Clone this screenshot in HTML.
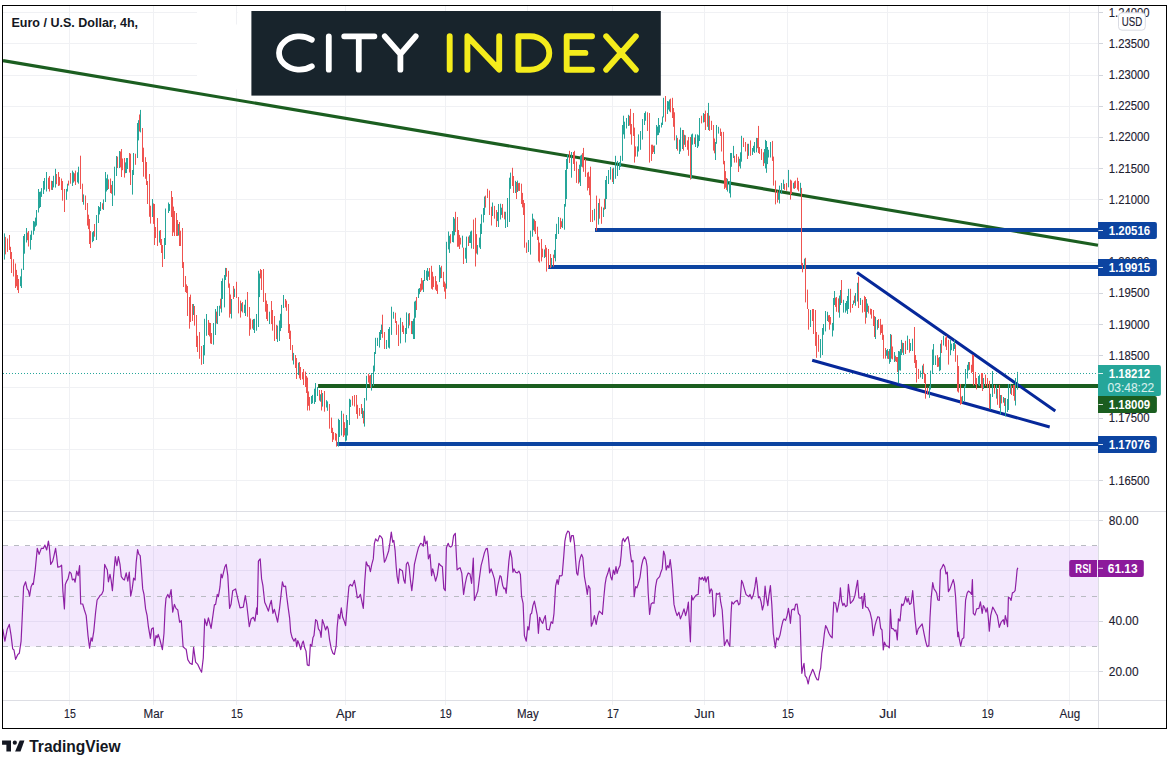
<!DOCTYPE html>
<html><head><meta charset="utf-8"><title>EUR/USD 4h</title>
<style>html,body{margin:0;padding:0;background:#fff}body{width:1173px;height:765px;position:relative;overflow:hidden;font-family:"Liberation Sans", sans-serif}</style>
</head><body>
<svg width="1173" height="765" viewBox="0 0 1173 765" style="position:absolute;left:0;top:0;font-family:'Liberation Sans',sans-serif">
<rect x="0" y="0" width="1173" height="765" fill="#fff"/>
<path d="M69.5 6V705M153.5 6V705M236.5 6V705M345.5 6V705M445.5 6V705M527.5 6V705M612.5 6V705M704.5 6V705M787.5 6V705M887.5 6V705M987.5 6V705M1069.5 6V705M3 12.5H1098M3 43.5H1098M3 75.5H1098M3 106.5H1098M3 137.5H1098M3 168.5H1098M3 199.5H1098M3 231.5H1098M3 262.5H1098M3 293.5H1098M3 324.5H1098M3 355.5H1098M3 387.5H1098M3 418.5H1098M3 449.5H1098M3 480.5H1098M3 520.5H1098M3 570.5H1098M3 621.5H1098M3 671.5H1098" stroke="#f0f1f4" stroke-width="1" fill="none"/>
<rect x="3" y="546" width="1095" height="100.5" fill="#a040f0" fill-opacity="0.12"/>
<path d="M3 545.5H1098" stroke="#b9bbc2" stroke-width="1" stroke-dasharray="5 6" fill="none"/>
<path d="M3 596.5H1098" stroke="#b9bbc2" stroke-width="1" stroke-dasharray="5 6" fill="none"/>
<path d="M3 646.5H1098" stroke="#b9bbc2" stroke-width="1" stroke-dasharray="5 6" fill="none"/>
<path d="M3 511.5H1166M3 700.5H1166M1098.5 6V728" stroke="#dddee4" stroke-width="1" fill="none"/>
<path d="M3 373.5H1098" stroke="#26a69a" stroke-width="1" stroke-dasharray="1 2" fill="none"/>
<path d="M3 60.6L1098 245.2" stroke="#1b5e20" stroke-width="3.1" fill="none"/>
<path d="M318.1 386H1098" stroke="#1b5e20" stroke-width="4" fill="none"/>
<path d="M595 230H1098M548.2 267H1098M337.2 444H1098" stroke="#0c44a1" stroke-width="4" fill="none"/>
<path d="M857 272.6L1055.3 410.9M812.2 360.3L1049.7 427" stroke="#06289a" stroke-width="3.05" fill="none"/>
<path d="M5.5 236.9V254.4M7.5 238.5V251.9M9.5 235.0V250.0M10.5 246.8V259.0M11.5 252.0V273.0M13.5 259.2V276.5M15.5 263.5V288.0M16.5 269.9V286.3M17.5 275.0V290.1M18.5 279.0V293.0M27.5 232.6V240.2M28.5 231.0V246.5M48.5 177.7V189.0M49.5 176.0V191.5M51.5 180.8V189.9M56.5 174.0V184.2M58.5 172.0V186.0M59.5 176.9V185.5M61.5 178.5V190.0M62.5 181.0V200.7M64.5 189.0V212.0M68.5 180.6V185.5M70.5 173.0V183.7M74.5 173.3V181.4M75.5 170.6V185.0M80.5 155.7V189.0M82.5 183.7V202.0M85.5 195.5V210.0M87.5 203.0V225.6M88.5 214.7V229.1M89.5 219.0V244.0M90.5 231.0V248.0M94.5 224.0V236.7M102.5 203.3V209.2M108.5 179.4V189.0M110.5 178.5V193.0M111.5 184.9V193.8M117.5 156.6V168.0M120.5 151.5V167.4M121.5 149.0V177.0M122.5 158.5V170.2M124.5 158.0V177.6M129.5 153.0V172.5M130.5 153.7V185.0M135.5 153.7V164.8M139.5 114.5V131.5M142.5 128.0V162.0M143.5 147.7V176.7M145.5 157.2V178.8M146.5 162.0V185.0M147.5 181.0V204.0M149.5 174.0V216.8M150.5 205.7V223.6M153.5 203.4V223.9M154.5 204.0V245.0M155.5 227.0V238.0M157.5 218.0V246.0M160.5 230.0V245.0M161.5 239.0V253.0M162.5 245.0V267.0M171.5 191.0V217.0M172.5 197.0V236.0M173.5 206.6V232.4M174.5 211.0V236.0M176.5 213.0V236.0M177.5 220.0V236.0M179.5 222.0V246.0M180.5 230.7V246.0M182.5 228.0V268.0M183.5 262.0V287.0M185.5 276.0V292.0M186.5 284.4V293.0M187.5 286.0V316.0M189.5 297.0V328.7M190.5 294.6V322.0M192.5 304.0V321.0M194.5 306.0V325.6M196.5 315.0V347.0M197.5 335.8V352.0M199.5 332.0V358.8M201.5 346.0V364.8M208.5 320.0V335.0M209.5 322.7V336.4M210.5 323.0V343.5M211.5 333.0V344.0M216.5 311.6V323.5M220.5 298.7V308.7M226.5 268.0V276.7M228.5 270.8V287.8M229.5 283.5V317.6M230.5 294.5V313.9M233.5 286.0V299.0M236.5 281.8V298.0M238.5 297.0V313.4M240.5 300.6V317.6M242.5 302.0V312.5M247.5 292.0V316.8M249.5 307.0V335.8M250.5 318.5V329.6M252.5 319.8V328.6M260.5 269.0V278.4M261.5 270.0V290.0M263.5 269.0V302.0M265.5 293.0V311.7M266.5 300.6V319.0M267.5 304.0V321.0M271.5 301.0V324.0M272.5 310.0V330.7M274.5 316.0V341.0M276.5 324.9V339.1M285.5 299.0V307.4M286.5 300.6V310.8M288.5 304.0V333.0M289.5 324.0V339.0M290.5 330.7V350.0M292.5 345.0V360.5M295.5 355.0V368.0M296.5 358.0V379.0M299.5 362.0V378.4M300.5 367.0V380.0M302.5 372.2V379.3M303.5 369.0V385.0M305.5 371.6V387.0M306.5 375.9V393.0M307.5 377.6V410.5M308.5 391.4V405.8M309.5 397.0V410.5M319.5 390.0V400.6M321.5 390.0V410.5M324.5 391.0V411.7M329.5 404.0V428.7M331.5 417.6V433.0M332.5 427.8V442.0M333.5 432.0V439.7M335.5 433.0V440.6M336.5 433.8V446.6M343.5 413.7V437.0M344.5 422.2V435.4M352.5 396.0V405.6M354.5 395.0V406.5M356.5 395.0V414.0M357.5 404.8V418.8M359.5 408.0V415.9M361.5 404.0V414.0M363.5 410.8V423.5M368.5 373.8V382.6M369.5 375.5V384.2M370.5 375.0V387.7M382.5 314.7V337.8M384.5 332.0V349.0M395.5 312.7V323.0M396.5 321.0V334.9M398.5 324.6V346.0M402.5 322.0V332.0M403.5 325.5V334.0M409.5 313.0V325.5M411.5 321.0V334.0M416.5 297.0V310.0M420.5 283.7V292.0M421.5 278.0V290.5M422.5 280.4V289.6M429.5 268.0V280.0M431.5 265.8V288.8M432.5 271.8V289.7M433.5 276.5V287.0M435.5 276.0V289.7M436.5 281.1V291.0M437.5 284.6V294.0M441.5 265.8V278.0M443.5 271.8V287.0M444.5 281.6V291.6M445.5 283.5V298.9M450.5 234.2V243.4M455.5 211.8V232.0M457.5 217.0V246.8M458.5 230.0V246.7M459.5 234.9V249.0M460.5 237.7V244.5M463.5 247.6V264.0M468.5 236.6V246.0M473.5 219.5V249.0M475.5 217.8V266.5M476.5 234.1V253.5M485.5 195.6V207.6M487.5 188.8V198.0M489.5 190.5V215.0M491.5 206.7V225.5M494.5 205.9V218.7M496.5 210.0V227.0M502.5 204.0V217.8M504.5 211.7V219.4M512.5 167.8V186.0M513.5 176.0V193.0M516.5 182.0V199.0M518.5 183.1V190.9M519.5 182.8V191.0M521.5 183.7V204.0M522.5 192.9V207.4M523.5 200.0V215.0M524.5 203.0V247.7M526.5 242.5V252.9M534.5 219.5V231.5M535.5 221.0V234.0M537.5 226.7V240.0M538.5 236.7V261.4M539.5 242.6V262.7M541.5 239.0V261.4M542.5 248.7V257.2M545.5 245.0V257.0M546.5 247.7V271.6M548.5 249.0V268.0M550.5 254.0V268.0M553.5 254.6V266.5M560.5 217.8V229.0M561.5 221.2V227.1M569.5 150.8V163.0M573.5 152.0V164.0M574.5 150.8V171.0M576.5 161.5V182.9M578.5 169.0V183.7M582.5 153.1V167.4M583.5 147.9V171.8M585.5 159.0V176.9M587.5 172.6V190.5M588.5 171.8V188.0M589.5 176.6V195.2M590.5 166.7V222.0M592.5 210.0V222.0M596.5 195.6V230.6M599.5 198.7V218.7M601.5 206.7V223.8M604.5 198.8V209.7M612.5 168.5V182.0M629.5 115.8V125.6M630.5 108.9V134.4M631.5 124.0V144.7M633.5 113.0V136.0M634.5 127.6V162.6M635.5 146.4V156.6M647.5 112.3V131.0M649.5 113.0V162.6M651.5 144.7V160.9M652.5 144.7V154.0M653.5 145.7V152.1M665.5 96.0V121.7M670.5 98.6V112.3M672.5 97.8V118.0M673.5 108.0V126.8M674.5 112.3V140.4M677.5 137.9V150.6M683.5 130.0V150.6M685.5 135.3V147.0M687.5 140.4V149.8M688.5 137.0V155.8M690.5 137.0V179.6M694.5 137.5V144.1M701.5 115.7V123.4M704.5 114.0V122.1M705.5 110.6V130.0M707.5 113.0V126.8M709.5 115.7V131.0M711.5 120.8V130.0M713.5 125.0V150.6M714.5 138.5V153.3M720.5 128.5V136.0M721.5 131.9V151.5M723.5 131.9V164.3M724.5 160.9V189.0M725.5 171.1V187.7M726.5 178.0V189.9M734.5 155.8V162.6M736.5 154.0V162.6M738.5 156.6V172.0M743.5 137.9V147.0M745.5 142.0V151.5M747.5 143.8V159.0M750.5 140.4V155.8M757.5 138.0V148.2M758.5 125.9V153.0M759.5 147.0V154.0M761.5 148.9V160.0M763.5 152.3V166.0M772.5 140.9V160.9M773.5 156.6V185.6M775.5 180.5V204.4M777.5 190.7V202.6M784.5 183.9V189.9M786.5 183.0V190.7M790.5 179.6V199.6M791.5 180.5V194.0M794.5 181.3V189.0M795.5 180.5V188.0M797.5 177.7V189.6M798.5 181.0V191.3M801.5 187.9V265.5M802.5 263.0V272.3M805.5 257.8V302.4M807.5 289.6V309.0M808.5 309.0V329.7M812.5 309.0V321.0M813.5 309.0V334.0M815.5 310.0V345.9M816.5 332.0V357.8M818.5 334.8V351.8M828.5 315.3V322.1M829.5 315.0V329.7M830.5 317.0V324.6M835.5 297.7V306.9M836.5 297.0V311.8M838.5 298.4V312.5M841.5 280.0V303.0M850.5 288.8V312.6M852.5 304.0V308.0M854.5 295.6V303.0M858.5 276.8V308.0M862.5 299.8V312.6M864.5 295.9V311.8M865.5 297.0V323.7M868.5 305.8V313.5M870.5 308.6V314.6M871.5 309.0V318.6M873.5 310.0V326.0M874.5 316.0V337.0M878.5 319.0V328.0M880.5 318.9V334.8M881.5 324.8V333.0M882.5 324.6V339.9M883.5 334.8V358.7M885.5 348.0V358.7M888.5 351.1V359.0M891.5 334.8V358.7M892.5 346.5V359.4M895.5 355.7V361.3M896.5 357.0V362.0M897.5 357.0V372.0M902.5 342.7V352.7M905.5 340.8V354.0M909.5 339.0V352.7M914.5 327.0V363.0M915.5 355.0V368.0M916.5 360.0V382.5M918.5 368.9V379.0M923.5 363.8V374.0M924.5 372.9V383.0M925.5 374.0V398.7M927.5 387.6V394.5M937.5 355.0V367.0M938.5 357.7V366.7M941.5 340.0V353.0M945.5 337.5V346.6M946.5 335.8V350.0M948.5 339.8V364.6M955.5 344.4V361.8M957.5 355.2V391.5M958.5 366.0V392.6M960.5 384.0V404.8M961.5 396.6V404.0M969.5 362.0V369.8M971.5 364.8V373.0M972.5 354.7V371.9M973.5 355.0V385.5M975.5 372.0V385.0M976.5 378.0V389.4M981.5 373.0V388.0M982.5 373.0V391.0M985.5 374.6V386.0M987.5 378.0V387.6M989.5 380.8V408.9M994.5 384.9V393.8M997.5 389.0V404.8M999.5 384.9V408.0M1001.5 395.0V403.4M1004.5 398.0V406.0M1011.5 385.6V395.0M1013.5 385.0V396.0M1014.5 385.0V400.7" stroke="#ef5350" stroke-width="1" fill="none"/>
<path d="M4.5 233.4V259.6M20.5 276.4V286.2M21.5 268.7V288.0M23.5 236.0V270.0M24.5 234.0V253.7M26.5 228.0V242.5M30.5 234.7V249.6M31.5 230.6V240.0M33.5 221.0V234.7M34.5 221.5V230.8M35.5 217.6V226.8M36.5 210.0V225.6M38.5 189.0V212.5M39.5 191.9V208.2M40.5 191.5V207.0M41.5 188.1V196.9M43.5 181.0V194.0M44.5 178.0V189.6M46.5 172.0V191.5M52.5 181.0V190.0M53.5 175.8V187.4M55.5 168.8V187.6M66.5 188.9V199.8M67.5 183.7V191.5M72.5 170.6V186.0M73.5 172.3V182.7M77.5 172.3V182.4M78.5 166.7V183.7M83.5 194.4V204.7M92.5 232.2V242.2M93.5 231.0V241.0M96.5 215.0V240.0M98.5 206.0V223.0M99.5 207.1V214.5M100.5 202.0V211.0M103.5 199.4V210.0M105.5 172.0V202.0M106.5 178.3V191.5M107.5 174.5V190.0M112.5 181.0V206.0M114.5 166.7V195.5M116.5 156.0V176.0M119.5 151.0V168.0M125.5 162.4V173.2M126.5 158.0V173.0M127.5 158.0V169.0M132.5 170.0V194.6M133.5 153.0V175.0M137.5 123.0V158.0M138.5 120.2V140.4M140.5 109.9V132.4M152.5 199.0V217.0M159.5 230.7V242.6M164.5 238.0V259.0M165.5 208.5V245.0M168.5 202.5V213.0M169.5 204.0V211.0M178.5 224.0V235.6M193.5 304.0V315.0M203.5 345.0V364.0M204.5 318.8V355.4M206.5 314.0V335.8M213.5 323.0V344.7M215.5 309.0V335.0M217.5 306.0V324.0M219.5 305.7V316.0M221.5 281.0V312.5M222.5 278.4V299.0M224.5 275.0V307.4M225.5 267.9V280.0M231.5 299.0V318.5M234.5 288.7V297.0M241.5 303.2V311.3M244.5 304.7V313.1M245.5 299.7V316.0M253.5 319.0V330.0M254.5 318.8V333.0M256.5 314.0V330.7M258.5 270.8V327.0M259.5 273.5V297.1M269.5 311.7V324.0M277.5 325.6V342.0M279.5 320.5V341.0M280.5 313.8V331.1M281.5 304.9V328.0M283.5 295.0V308.0M293.5 352.9V364.5M298.5 362.7V375.1M311.5 396.0V404.0M312.5 394.9V403.3M314.5 388.7V404.0M315.5 383.0V402.0M317.5 387.0V396.0M320.5 394.3V401.7M322.5 393.0V406.6M326.5 400.2V407.5M327.5 401.4V410.8M338.5 418.8V446.6M339.5 420.0V437.0M341.5 410.8V435.5M345.5 428.0V441.5M346.5 415.0V440.6M347.5 420.0V435.5M349.5 398.8V425.0M350.5 399.7V407.0M362.5 408.1V418.0M364.5 398.0V426.6M366.5 375.8V400.5M371.5 373.0V390.6M373.5 365.6V386.0M374.5 352.0V371.5M375.5 337.8V354.0M377.5 337.8V346.0M379.5 332.0V347.6M380.5 330.0V340.0M381.5 324.6V334.0M386.5 340.0V349.0M388.5 329.0V347.6M389.5 327.0V348.5M391.5 306.7V334.9M393.5 311.8V318.7M400.5 317.8V343.4M405.5 328.0V342.5M406.5 312.4V334.0M408.5 313.6V328.3M412.5 321.1V334.2M413.5 318.7V339.0M414.5 301.6V339.0M415.5 300.7V317.7M418.5 288.8V298.0M419.5 288.0V294.2M423.5 280.0V292.0M424.5 270.0V281.0M426.5 270.7V280.0M427.5 268.0V281.0M428.5 271.3V276.8M439.5 265.0V282.0M440.5 267.4V278.3M446.5 241.8V288.7M448.5 231.5V249.4M449.5 235.8V252.9M452.5 231.0V242.0M453.5 217.0V242.5M454.5 218.6V235.3M462.5 235.7V247.6M465.5 247.8V258.7M466.5 236.6V263.0M469.5 235.3V243.0M470.5 231.5V243.0M471.5 230.6V248.5M477.5 245.0V254.6M479.5 237.6V247.5M480.5 223.8V249.0M481.5 214.4V234.0M483.5 208.0V222.5M484.5 196.5V215.0M492.5 202.5V216.0M497.5 212.1V221.1M498.5 204.0V227.0M500.5 203.7V219.5M501.5 207.7V214.9M505.5 211.8V228.0M507.5 198.0V227.0M509.5 177.7V222.0M510.5 172.6V188.8M515.5 180.8V193.0M517.5 180.6V192.0M528.5 240.0V252.0M530.5 230.6V254.6M532.5 213.7V236.7M533.5 218.6V230.2M544.5 249.4V258.0M551.5 258.0V267.0M554.5 249.9V258.1M555.5 234.0V261.4M556.5 223.8V239.0M558.5 217.0V234.0M562.5 218.7V228.0M564.5 204.0V229.7M565.5 170.0V206.7M566.5 159.0V199.0M567.5 154.7V169.0M571.5 152.0V177.7M579.5 164.7V182.4M580.5 155.6V186.0M581.5 154.7V166.7M594.5 208.8V220.4M598.5 203.0V224.6M603.5 207.6V217.0M605.5 180.0V209.0M606.5 176.0V199.0M608.5 170.0V184.0M610.5 167.0V179.6M613.5 167.7V184.0M615.5 155.8V178.8M617.5 160.9V176.0M619.5 162.0V170.0M620.5 155.8V167.0M622.5 125.0V160.9M623.5 115.7V134.4M624.5 121.7V138.7M626.5 118.0V128.5M628.5 114.8V126.0M637.5 146.4V156.6M638.5 134.4V151.5M640.5 131.0V149.8M642.5 119.0V139.6M644.5 113.0V125.0M645.5 111.4V120.8M654.5 145.5V154.0M656.5 125.0V144.7M657.5 126.6V135.3M658.5 118.0V135.0M659.5 125.0V132.7M661.5 122.7V127.5M662.5 116.5V125.0M663.5 97.8V117.4M667.5 101.0V114.0M668.5 101.4V109.6M669.5 99.5V111.4M676.5 135.3V149.0M679.5 139.6V154.0M680.5 127.6V151.5M682.5 130.0V149.0M684.5 134.8V144.8M691.5 134.4V178.8M692.5 133.6V144.7M695.5 134.4V147.0M697.5 134.4V148.0M698.5 135.3V146.4M699.5 118.0V141.0M703.5 113.0V122.5M708.5 102.9V130.0M715.5 142.0V160.0M716.5 125.0V143.8M718.5 126.8V133.6M727.5 178.8V191.6M729.5 181.3V193.3M730.5 153.0V197.5M731.5 153.0V166.8M733.5 145.9V158.0M739.5 158.8V166.3M740.5 152.3V168.5M741.5 135.8V161.7M748.5 143.8V155.8M752.5 148.0V155.0M753.5 145.8V151.7M754.5 142.0V153.0M756.5 137.9V152.3M764.5 149.0V163.3M765.5 139.9V168.5M766.5 141.0V172.8M767.5 147.0V164.1M768.5 149.8V157.5M770.5 142.0V157.5M778.5 192.5V199.9M779.5 185.6V203.5M781.5 183.0V194.0M783.5 179.6V189.0M788.5 169.9V187.3M793.5 182.8V188.5M800.5 182.8V193.9M804.5 258.7V268.9M810.5 310.0V327.0M820.5 339.0V357.8M822.5 328.0V355.0M823.5 324.0V334.8M825.5 311.0V331.4M827.5 311.8V321.0M832.5 322.9V336.5M833.5 298.0V330.5M834.5 291.0V305.0M839.5 295.6V317.7M840.5 290.0V305.0M843.5 299.8V312.6M845.5 303.0V312.6M846.5 301.0V310.6M847.5 296.0V314.0M848.5 288.8V309.0M853.5 300.5V304.6M855.5 293.0V305.8M857.5 282.8V301.5M860.5 298.0V305.0M866.5 299.0V317.7M867.5 303.5V311.9M875.5 316.9V339.0M877.5 320.0V329.7M886.5 350.1V355.8M887.5 349.0V358.7M889.5 349.0V363.8M890.5 334.0V362.0M894.5 352.0V362.0M898.5 351.0V383.4M899.5 351.4V370.3M900.5 349.0V370.6M901.5 339.9V355.0M903.5 343.0V355.0M907.5 335.6V350.0M910.5 343.0V351.0M912.5 338.7V351.0M920.5 370.6V377.4M922.5 365.5V379.0M929.5 386.0V397.9M930.5 370.6V389.5M932.5 349.5V374.0M933.5 344.0V365.0M935.5 355.5V365.0M939.5 357.0V371.2M940.5 343.7V370.2M943.5 335.8V345.5M950.5 340.0V355.2M951.5 343.7V350.2M953.5 343.0V351.0M954.5 339.8V349.0M962.5 395.9V402.7M964.5 386.0V401.0M965.5 369.0V387.6M967.5 364.8V378.5M968.5 362.0V370.5M978.5 376.0V385.4M979.5 374.6V386.0M983.5 378.0V389.0M990.5 393.8V409.6M992.5 371.0V397.0M996.5 384.9V398.6M1000.5 395.0V414.4M1003.5 397.0V402.7M1005.5 398.0V416.4M1007.5 399.0V412.0M1008.5 384.0V410.0M1010.5 384.0V393.8M1015.5 378.0V405.5M1017.5 371.9V389.7" stroke="#26a69a" stroke-width="1" fill="none"/>
<path d="M2.7 628.9L4.9 641.1L7.3 628.9L9.3 624.4L11.1 635.6L12.7 648.9L14.0 650.0L15.6 659.3L17.8 654.4L19.3 653.3L21.1 641.1L22.2 617.8L23.6 586.7L25.6 581.8L27.1 588.9L28.4 590.7L29.6 596.2L31.1 586.7L32.7 583.3L33.3 584.4L35.1 571.1L37.3 548.4L39.1 554.4L41.3 548.4L43.3 548.4L44.9 545.1L46.7 550.0L48.4 541.1L49.3 546.7L50.7 564.4L52.7 561.1L54.0 555.6L55.6 548.4L56.7 556.7L57.8 567.1L60.0 566.7L61.6 565.1L62.9 591.1L64.4 608.9L65.3 584.4L66.7 581.1L68.0 578.9L69.6 571.8L71.1 573.3L72.4 580.0L74.0 578.9L75.1 582.2L76.7 571.1L78.2 575.6L79.6 565.6L80.7 604.0L82.7 604.0L84.4 610.0L86.2 615.6L88.0 635.6L89.6 648.2L91.1 637.8L92.2 641.1L93.8 631.1L95.6 612.2L97.1 600.0L98.4 598.2L100.0 595.6L101.6 594.4L103.3 590.7L104.7 564.4L106.2 567.8L107.3 570.0L108.4 581.8L110.0 574.4L111.1 580.0L112.4 590.7L113.8 573.3L115.3 556.7L116.9 565.6L118.4 556.7L120.0 564.4L121.3 576.7L122.9 578.9L124.4 580.0L126.2 572.9L127.8 581.1L129.3 572.2L130.7 596.2L132.2 588.9L133.6 578.2L135.1 580.0L136.2 562.2L137.6 549.6L138.9 554.4L140.2 555.6L141.6 573.3L142.7 588.9L144.0 594.4L145.6 608.9L147.1 615.6L148.4 626.7L150.4 638.4L151.6 628.9L153.3 627.8L154.4 645.6L156.0 635.6L157.1 637.8L158.2 634.4L160.0 640.0L162.4 649.6L164.0 633.3L165.1 608.9L166.0 598.2L167.8 594.4L169.3 597.8L171.1 589.6L172.7 612.2L174.4 604.4L176.0 608.4L177.8 610.0L179.6 622.2L181.3 620.7L183.1 646.7L184.9 648.4L186.2 649.3L187.8 659.6L190.0 663.3L192.2 664.4L193.6 647.3L195.6 662.2L197.8 664.4L200.0 669.3L201.6 672.2L203.3 657.8L204.7 618.9L206.7 625.6L208.4 617.8L211.1 628.4L212.9 615.6L214.4 604.9L215.6 604.4L217.3 594.4L218.4 596.7L220.0 586.7L221.1 574.0L222.2 577.8L223.3 573.3L224.9 566.7L226.2 564.4L227.8 575.6L229.6 608.4L231.1 604.0L232.7 590.7L235.6 588.9L237.3 596.7L240.0 607.8L243.3 607.1L245.3 595.6L246.7 604.0L249.3 626.7L251.1 618.9L253.3 617.3L254.9 621.1L256.7 607.8L257.3 614.4L258.4 561.1L260.2 558.9L261.6 578.9L262.9 585.6L264.7 602.2L266.7 606.7L268.4 611.1L270.0 604.4L271.3 600.4L272.9 613.3L274.4 609.3L276.0 615.6L277.6 622.2L279.6 607.8L281.1 594.4L282.4 581.8L283.8 586.7L285.6 586.2L286.9 597.8L288.2 607.8L289.6 617.8L290.7 632.2L292.2 637.8L294.0 641.1L295.6 638.4L296.7 646.7L297.8 640.7L299.3 644.4L300.7 649.6L302.2 643.3L303.3 641.1L304.7 647.8L306.0 651.1L307.3 664.9L309.1 665.6L310.4 644.4L311.8 646.2L312.9 637.8L314.0 635.6L315.6 619.6L317.1 621.1L318.4 628.9L320.0 631.1L321.1 637.3L322.4 619.6L324.0 624.4L325.6 630.0L327.1 626.2L328.2 628.9L329.6 640.0L331.3 648.9L332.9 653.3L334.4 654.4L336.2 645.6L337.1 627.8L338.4 614.4L339.8 618.9L341.3 607.8L342.7 617.3L344.2 621.1L345.6 625.6L347.1 606.7L348.9 586.7L350.4 584.4L352.2 586.2L354.4 580.4L356.0 588.9L357.3 597.8L358.9 597.3L360.4 594.4L361.8 601.1L363.3 608.4L364.7 582.2L366.2 561.8L367.8 566.0L368.9 565.6L370.4 571.6L371.8 564.4L373.3 558.9L374.4 543.3L375.6 538.9L376.7 540.4L377.8 541.1L379.6 535.6L381.1 536.7L382.4 538.9L383.3 551.1L384.4 562.2L385.6 560.0L387.1 555.6L388.7 550.7L390.0 542.2L391.3 532.2L392.7 542.2L393.8 540.4L395.1 550.7L396.2 566.7L397.1 576.7L398.4 583.3L399.6 568.9L401.1 570.0L402.4 570.7L403.8 580.0L405.1 583.3L406.4 564.0L407.8 562.2L409.1 566.7L410.4 580.0L411.8 590.7L413.3 577.3L414.4 564.4L416.7 554.4L418.4 547.8L420.7 543.3L422.0 544.0L423.3 546.2L424.4 536.0L425.6 544.0L427.1 541.1L428.4 558.9L430.0 554.4L431.6 575.6L432.7 568.9L434.0 574.0L435.6 581.1L437.3 575.1L438.9 563.3L440.7 565.6L442.4 566.7L443.8 588.4L445.3 590.7L446.4 547.8L448.2 543.3L449.3 546.2L450.7 547.1L452.2 545.6L453.6 535.6L455.3 533.3L456.2 552.2L457.1 570.0L458.9 568.4L460.2 567.8L461.8 573.3L463.6 594.4L465.1 584.4L466.7 576.7L468.2 572.9L470.0 574.0L471.6 583.3L473.3 558.2L474.4 600.4L476.2 595.6L477.8 591.1L479.3 578.9L481.1 565.6L482.9 558.9L484.4 552.9L486.0 548.9L487.3 548.4L488.4 556.7L489.6 572.9L491.1 568.9L492.7 573.3L494.4 578.9L496.2 595.6L497.8 585.6L499.3 578.9L500.0 575.6L501.1 576.7L502.7 585.6L504.0 588.9L505.1 587.8L506.2 593.3L507.8 574.4L508.9 561.1L510.2 550.7L511.8 557.8L512.9 572.2L514.0 568.9L515.6 572.2L517.3 572.9L518.9 571.1L520.4 574.4L521.6 596.7L523.1 603.3L524.4 635.6L526.2 641.1L527.8 626.7L528.9 630.0L530.4 614.4L531.6 613.3L532.9 605.6L534.4 601.1L536.0 608.9L537.3 615.6L538.4 633.3L539.6 617.3L541.1 621.1L542.7 623.3L544.0 618.9L545.3 615.6L546.7 629.3L549.3 630.0L551.1 621.8L552.7 623.3L554.0 613.3L555.6 586.2L557.1 579.6L558.2 584.4L559.6 575.6L561.1 576.0L562.2 575.1L563.8 555.6L564.9 541.1L566.2 534.4L567.8 531.1L569.3 532.2L570.4 541.8L571.6 535.6L573.3 535.6L574.4 543.3L575.6 560.0L576.7 573.3L577.8 575.1L579.3 562.2L580.4 557.3L581.6 554.4L582.9 557.8L584.4 576.7L586.0 585.6L587.3 594.4L588.4 585.6L590.0 588.4L591.3 626.2L592.9 622.2L594.4 615.6L596.2 624.4L597.8 615.6L599.3 611.1L601.1 612.9L602.4 614.4L603.8 597.8L605.1 584.4L606.2 577.8L607.8 573.3L609.3 567.8L610.7 576.7L612.0 580.0L613.3 570.0L614.7 574.4L616.0 566.7L617.1 573.3L618.4 568.9L620.0 565.6L621.1 555.6L622.2 541.1L623.3 538.4L624.7 541.8L626.2 538.9L628.0 536.7L629.3 543.3L630.4 553.3L631.6 561.8L632.9 560.4L634.2 596.7L635.6 586.7L636.9 587.8L638.2 584.0L640.0 577.3L641.6 565.6L642.9 560.0L644.4 556.7L646.0 560.0L647.1 566.7L648.2 593.3L649.6 614.4L651.1 604.0L652.7 602.7L654.0 603.3L655.6 586.7L656.9 579.6L658.2 578.2L659.6 576.7L660.9 572.2L662.2 568.9L663.6 551.1L664.9 555.1L666.2 570.0L667.6 565.6L668.9 567.8L670.2 559.6L671.6 571.1L672.9 588.9L674.0 604.4L675.6 611.1L677.1 615.6L678.9 612.2L680.4 618.9L682.2 614.4L684.0 608.9L685.6 615.6L687.1 610.0L688.4 602.2L689.3 622.2L690.4 641.8L691.6 595.6L692.9 600.0L694.4 597.3L696.2 595.1L698.2 594.4L699.3 577.3L701.1 579.6L702.2 577.3L703.8 580.4L704.9 576.7L706.0 582.2L707.1 578.2L708.2 576.7L709.6 593.3L711.1 588.9L712.2 590.7L713.6 616.7L715.1 614.4L716.4 593.3L718.0 594.4L719.6 592.9L720.7 602.2L722.2 610.0L723.3 626.7L724.4 645.6L725.8 642.2L727.1 639.6L728.4 643.3L729.8 646.2L731.1 613.3L731.8 601.8L733.3 604.0L734.9 601.8L736.0 601.1L737.3 600.4L738.7 604.9L740.0 603.3L741.6 580.4L742.9 583.3L744.4 588.9L746.0 594.4L747.3 595.6L748.9 596.7L750.0 594.4L751.6 598.9L753.3 595.1L754.9 586.7L756.2 577.3L757.3 585.6L758.4 597.8L759.6 596.7L761.1 601.8L762.4 610.0L763.8 604.4L765.1 586.2L766.2 596.7L767.8 605.6L768.9 595.6L770.4 585.6L771.8 604.4L773.3 633.3L775.3 647.8L776.7 637.8L778.2 640.0L780.0 635.1L781.6 626.7L782.9 621.1L784.0 618.9L785.6 620.4L787.1 615.6L788.4 608.4L789.6 615.6L790.4 623.3L791.6 610.0L793.3 608.9L794.4 610.0L795.6 604.4L797.1 604.0L798.4 613.3L800.0 615.6L801.1 653.3L801.8 673.3L802.9 667.8L804.0 663.3L805.1 675.6L806.7 677.8L808.2 684.0L809.6 676.7L811.1 673.3L812.7 669.3L814.0 672.2L815.6 676.7L817.1 679.6L818.4 680.0L819.6 672.2L820.7 667.8L821.8 653.3L822.9 646.7L824.4 633.3L825.6 625.6L827.1 628.4L828.9 633.3L830.4 636.0L832.2 637.8L832.9 617.8L833.8 602.2L835.6 603.3L837.1 612.2L838.4 605.6L839.6 598.9L840.4 587.8L841.6 601.1L842.9 605.6L844.0 603.3L845.6 606.7L847.1 605.6L848.4 584.4L849.6 594.4L850.4 603.3L851.8 601.8L853.3 600.0L854.9 595.6L856.2 587.8L857.6 580.4L858.9 597.8L860.7 598.2L861.8 596.7L862.7 608.4L863.8 598.9L864.4 593.3L865.6 606.7L867.8 607.8L870.0 612.2L871.8 620.0L873.3 635.6L874.9 626.2L876.2 621.1L877.8 616.7L879.3 617.3L880.7 628.4L882.0 630.0L883.3 650.0L884.4 642.2L886.0 645.6L887.8 646.2L889.3 647.8L890.4 609.3L891.6 628.4L893.3 628.9L894.9 631.1L896.0 630.0L897.3 640.0L898.4 618.9L900.0 621.1L901.6 604.0L902.9 605.6L904.2 602.7L905.6 596.7L907.1 602.2L908.2 598.2L909.6 604.4L911.1 603.3L912.7 590.7L913.8 604.4L915.1 620.0L916.7 634.4L918.2 628.9L920.0 626.7L922.2 624.0L924.0 633.3L925.6 641.1L927.1 646.7L928.9 645.6L930.0 617.8L931.1 598.9L932.7 582.7L934.0 588.9L935.6 591.1L936.7 593.3L937.8 600.0L939.3 600.4L940.4 570.0L941.8 567.8L943.3 564.4L944.7 566.7L946.0 573.8L947.3 572.2L948.4 591.6L950.0 588.9L951.6 584.4L953.3 579.6L954.4 584.4L955.6 596.7L956.7 617.8L957.8 636.7L958.4 632.2L959.3 638.9L960.7 646.0L962.2 638.9L963.8 637.8L964.9 613.3L965.6 600.0L967.1 593.3L968.4 591.1L970.0 592.2L971.6 594.4L972.4 579.6L973.3 613.3L974.9 615.1L976.7 608.9L978.9 608.4L980.4 601.8L982.2 613.3L983.3 605.6L984.7 607.8L986.0 612.2L987.3 607.8L988.4 618.9L989.3 631.1L990.7 615.6L992.7 607.1L994.4 610.0L996.0 613.3L997.3 615.6L999.3 627.3L1001.1 622.2L1003.3 619.6L1004.4 624.4L1005.3 615.6L1006.7 621.1L1007.6 626.7L1008.4 597.3L1010.0 598.2L1011.1 600.4L1012.4 592.9L1013.8 592.2L1015.1 590.7L1016.2 580.0L1017.1 570.0L1017.8 567.8" stroke="#8e20a5" stroke-width="1.2" fill="none" stroke-linejoin="round"/>
<text x="1108.8" y="17.2" font-size="12" fill="#1c2030" text-anchor="start" textLength="40.8" lengthAdjust="spacingAndGlyphs" stroke="#1c2030" stroke-width="0.12">1.24000</text>
<text x="1108.8" y="47.5" font-size="12" fill="#1c2030" text-anchor="start" textLength="40.8" lengthAdjust="spacingAndGlyphs" stroke="#1c2030" stroke-width="0.12">1.23500</text>
<text x="1108.8" y="78.7" font-size="12" fill="#1c2030" text-anchor="start" textLength="40.8" lengthAdjust="spacingAndGlyphs" stroke="#1c2030" stroke-width="0.12">1.23000</text>
<text x="1108.8" y="110.0" font-size="12" fill="#1c2030" text-anchor="start" textLength="40.8" lengthAdjust="spacingAndGlyphs" stroke="#1c2030" stroke-width="0.12">1.22500</text>
<text x="1108.8" y="141.2" font-size="12" fill="#1c2030" text-anchor="start" textLength="40.8" lengthAdjust="spacingAndGlyphs" stroke="#1c2030" stroke-width="0.12">1.22000</text>
<text x="1108.8" y="172.5" font-size="12" fill="#1c2030" text-anchor="start" textLength="40.8" lengthAdjust="spacingAndGlyphs" stroke="#1c2030" stroke-width="0.12">1.21500</text>
<text x="1108.8" y="203.7" font-size="12" fill="#1c2030" text-anchor="start" textLength="40.8" lengthAdjust="spacingAndGlyphs" stroke="#1c2030" stroke-width="0.12">1.21000</text>
<text x="1108.8" y="234.9" font-size="12" fill="#1c2030" text-anchor="start" textLength="40.8" lengthAdjust="spacingAndGlyphs" stroke="#1c2030" stroke-width="0.12">1.20500</text>
<text x="1108.8" y="266.2" font-size="12" fill="#1c2030" text-anchor="start" textLength="40.8" lengthAdjust="spacingAndGlyphs" stroke="#1c2030" stroke-width="0.12">1.20000</text>
<text x="1108.8" y="297.4" font-size="12" fill="#1c2030" text-anchor="start" textLength="40.8" lengthAdjust="spacingAndGlyphs" stroke="#1c2030" stroke-width="0.12">1.19500</text>
<text x="1108.8" y="328.7" font-size="12" fill="#1c2030" text-anchor="start" textLength="40.8" lengthAdjust="spacingAndGlyphs" stroke="#1c2030" stroke-width="0.12">1.19000</text>
<text x="1108.8" y="359.9" font-size="12" fill="#1c2030" text-anchor="start" textLength="40.8" lengthAdjust="spacingAndGlyphs" stroke="#1c2030" stroke-width="0.12">1.18500</text>
<text x="1108.8" y="391.1" font-size="12" fill="#1c2030" text-anchor="start" textLength="40.8" lengthAdjust="spacingAndGlyphs" stroke="#1c2030" stroke-width="0.12">1.18000</text>
<text x="1108.8" y="422.4" font-size="12" fill="#1c2030" text-anchor="start" textLength="40.8" lengthAdjust="spacingAndGlyphs" stroke="#1c2030" stroke-width="0.12">1.17500</text>
<text x="1108.8" y="484.9" font-size="12" fill="#1c2030" text-anchor="start" textLength="40.8" lengthAdjust="spacingAndGlyphs" stroke="#1c2030" stroke-width="0.12">1.16500</text>
<text x="1108.8" y="524.6" font-size="12" fill="#1c2030" text-anchor="start" textLength="29.8" lengthAdjust="spacingAndGlyphs" stroke="#1c2030" stroke-width="0.12">80.00</text>
<text x="1108.8" y="575.0" font-size="12" fill="#1c2030" text-anchor="start" textLength="29.8" lengthAdjust="spacingAndGlyphs" stroke="#1c2030" stroke-width="0.12">60.00</text>
<text x="1108.8" y="625.4" font-size="12" fill="#1c2030" text-anchor="start" textLength="29.8" lengthAdjust="spacingAndGlyphs" stroke="#1c2030" stroke-width="0.12">40.00</text>
<text x="1108.8" y="675.8" font-size="12" fill="#1c2030" text-anchor="start" textLength="29.8" lengthAdjust="spacingAndGlyphs" stroke="#1c2030" stroke-width="0.12">20.00</text>
<path d="M1099 12.5h4M1099 43.5h4M1099 75.5h4M1099 106.5h4M1099 137.5h4M1099 168.5h4M1099 199.5h4M1099 231.5h4M1099 262.5h4M1099 293.5h4M1099 324.5h4M1099 355.5h4M1099 387.5h4M1099 418.5h4M1099 449.5h4M1099 480.5h4M1099 520.5h4M1099 570.5h4M1099 621.5h4M1099 671.5h4" stroke="#d2d5dc" stroke-width="1" fill="none"/>
<text x="70.0" y="718.0" font-size="12" fill="#1c2030" text-anchor="middle" textLength="11.8" lengthAdjust="spacingAndGlyphs" stroke="#1c2030" stroke-width="0.12">15</text>
<text x="153.6" y="718.0" font-size="12" fill="#1c2030" text-anchor="middle" textLength="20" lengthAdjust="spacingAndGlyphs" stroke="#1c2030" stroke-width="0.12">Mar</text>
<text x="237.0" y="718.0" font-size="12" fill="#1c2030" text-anchor="middle" textLength="11.8" lengthAdjust="spacingAndGlyphs" stroke="#1c2030" stroke-width="0.12">15</text>
<text x="345.9" y="718.0" font-size="12" fill="#1c2030" text-anchor="middle" textLength="20" lengthAdjust="spacingAndGlyphs" stroke="#1c2030" stroke-width="0.12">Apr</text>
<text x="445.7" y="718.0" font-size="12" fill="#1c2030" text-anchor="middle" textLength="12" lengthAdjust="spacingAndGlyphs" stroke="#1c2030" stroke-width="0.12">19</text>
<text x="527.8" y="718.0" font-size="12" fill="#1c2030" text-anchor="middle" textLength="21.7" lengthAdjust="spacingAndGlyphs" stroke="#1c2030" stroke-width="0.12">May</text>
<text x="612.9" y="718.0" font-size="12" fill="#1c2030" text-anchor="middle" textLength="12" lengthAdjust="spacingAndGlyphs" stroke="#1c2030" stroke-width="0.12">17</text>
<text x="704.5" y="718.0" font-size="12" fill="#1c2030" text-anchor="middle" textLength="20.4" lengthAdjust="spacingAndGlyphs" stroke="#1c2030" stroke-width="0.12">Jun</text>
<text x="787.9" y="718.0" font-size="12" fill="#1c2030" text-anchor="middle" textLength="11.8" lengthAdjust="spacingAndGlyphs" stroke="#1c2030" stroke-width="0.12">15</text>
<text x="887.9" y="718.0" font-size="12" fill="#1c2030" text-anchor="middle" textLength="17.4" lengthAdjust="spacingAndGlyphs" stroke="#1c2030" stroke-width="0.12">Jul</text>
<text x="987.6999999999999" y="718.0" font-size="12" fill="#1c2030" text-anchor="middle" textLength="12" lengthAdjust="spacingAndGlyphs" stroke="#1c2030" stroke-width="0.12">19</text>
<text x="1069.9" y="718.0" font-size="12" fill="#1c2030" text-anchor="middle" textLength="20.7" lengthAdjust="spacingAndGlyphs" stroke="#1c2030" stroke-width="0.12">Aug</text>
<path d="M1098 222h56.9a2 2 0 0 1 2 2v13a2 2 0 0 1 -2 2h-56.9z" fill="#0c44a1"/><path d="M1098.5 230.5h4.5" stroke="#fff" stroke-width="1" stroke-opacity="0.85"/><text x="1108.8" y="234.8" font-size="12" fill="#fff" text-anchor="start" textLength="41.4" lengthAdjust="spacingAndGlyphs" font-weight="bold">1.20516</text>
<path d="M1098 259h56.9a2 2 0 0 1 2 2v13a2 2 0 0 1 -2 2h-56.9z" fill="#0c44a1"/><path d="M1098.5 267.5h4.5" stroke="#fff" stroke-width="1" stroke-opacity="0.85"/><text x="1108.8" y="271.8" font-size="12" fill="#fff" text-anchor="start" textLength="41.4" lengthAdjust="spacingAndGlyphs" font-weight="bold">1.19915</text>
<path d="M1098 436h56.9a2 2 0 0 1 2 2v13a2 2 0 0 1 -2 2h-56.9z" fill="#0c44a1"/><path d="M1098.5 444.5h4.5" stroke="#fff" stroke-width="1" stroke-opacity="0.85"/><text x="1108.8" y="448.8" font-size="12" fill="#fff" text-anchor="start" textLength="41.4" lengthAdjust="spacingAndGlyphs" font-weight="bold">1.17076</text>
<path d="M1098 396h56.9a2 2 0 0 1 2 2v13a2 2 0 0 1 -2 2h-56.9z" fill="#1b5e20"/><path d="M1098.5 404.5h4.5" stroke="#fff" stroke-width="1" stroke-opacity="0.85"/><text x="1108.8" y="408.8" font-size="12" fill="#fff" text-anchor="start" textLength="41.4" lengthAdjust="spacingAndGlyphs" font-weight="bold">1.18009</text>
<path d="M1098 365h60.9a2 2 0 0 1 2 2v27a2 2 0 0 1 -2 2h-60.9z" fill="#26a69a"/>
<path d="M1098.5 373.5h4.5" stroke="#fff" stroke-width="1" stroke-opacity="0.85"/>
<text x="1108.8" y="378.0" font-size="12" fill="#fff" text-anchor="start" textLength="41.4" lengthAdjust="spacingAndGlyphs" font-weight="bold">1.18212</text>
<text x="1107.6" y="392.3" font-size="12" fill="#d7efec" text-anchor="start" textLength="46.7" lengthAdjust="spacingAndGlyphs" stroke="#d7efec" stroke-width="0.12">03:48:22</text>
<path d="M1097 560v17h-25.8a2 2 0 0 1 -2 -2v-13a2 2 0 0 1 2 -2z" fill="#8c1a9b"/>
<text x="1075.3" y="572.8" font-size="12" fill="#fff" text-anchor="start" textLength="15.8" lengthAdjust="spacingAndGlyphs" font-weight="bold">RSI</text>
<path d="M1098 560h43.8a2 2 0 0 1 2 2v13a2 2 0 0 1 -2 2h-43.8z" fill="#8c1a9b"/>
<path d="M1098.5 568.3h4.5" stroke="#fff" stroke-width="1" stroke-opacity="0.85"/>
<text x="1107.8" y="572.8" font-size="12" fill="#fff" text-anchor="start" textLength="29.7" lengthAdjust="spacingAndGlyphs" font-weight="bold">61.13</text>
<rect x="1118.5" y="12.8" width="26.8" height="17.4" rx="3.5" fill="#fff" stroke="#d9dbe3" stroke-width="1"/>
<text x="1121.8" y="26.0" font-size="12" fill="#1c2030" text-anchor="start" textLength="20.5" lengthAdjust="spacingAndGlyphs" stroke="#1c2030" stroke-width="0.12">USD</text>
<text x="11.5" y="26.8" font-size="12.5" fill="#131722" text-anchor="start" textLength="126.6" lengthAdjust="spacingAndGlyphs" font-weight="bold">Euro / U.S. Dollar, 4h,</text>
<rect x="197" y="24.5" width="56" height="65" fill="#fff"/><rect x="197" y="11" width="39" height="2" fill="#fff"/><rect x="237.5" y="11" width="15" height="2" fill="#fff"/>
<rect x="251.4" y="11" width="409.4" height="84.6" fill="#18242c"/>
<path d="M311.8 39.8A20.4 16.6 0 1 0 311.8 66.2" stroke="#fff" stroke-width="5.8" fill="none" stroke-linecap="round" stroke-linejoin="round"/>
<path d="M328.8 36.3V69.7M344.2 36.3H374.4M358.8 36.3V69.7M384.8 36.3L400.4 54.2L415.7 36.3M400.4 54.2V69.7" stroke="#fff" stroke-width="5.8" fill="none" stroke-linecap="round" stroke-linejoin="round"/>
<path d="M449.7 36.3V69.7M467.4 69.7V36.3L499.2 69.7V36.3M518.4 36.3V69.7H530A19 16.45 0 0 0 530 36.3H518.4M592 36.3H566.7V69.7H592M566.7 52.9H585.4M606.2 36.3L635.8 69.7M635.8 36.3L606.2 69.7" stroke="#f4ec1c" stroke-width="5.9" fill="none" stroke-linecap="round" stroke-linejoin="round"/>
<rect x="2.5" y="5.5" width="1164" height="723" fill="none" stroke="#000" stroke-width="1"/>
<path d="M2.05 740.4H11V751.6H6.4V744.7H2.05z" fill="#131722"/><circle cx="14.8" cy="742.7" r="2.1" fill="#131722"/><path d="M19.7 740.4H24.45L20.5 751.6H15.1z" fill="#131722"/>
<text x="29.2" y="751.5" font-size="15.6" fill="#131722" text-anchor="start" textLength="91.3" lengthAdjust="spacingAndGlyphs" font-weight="bold">TradingView</text>
</svg>
</body></html>
